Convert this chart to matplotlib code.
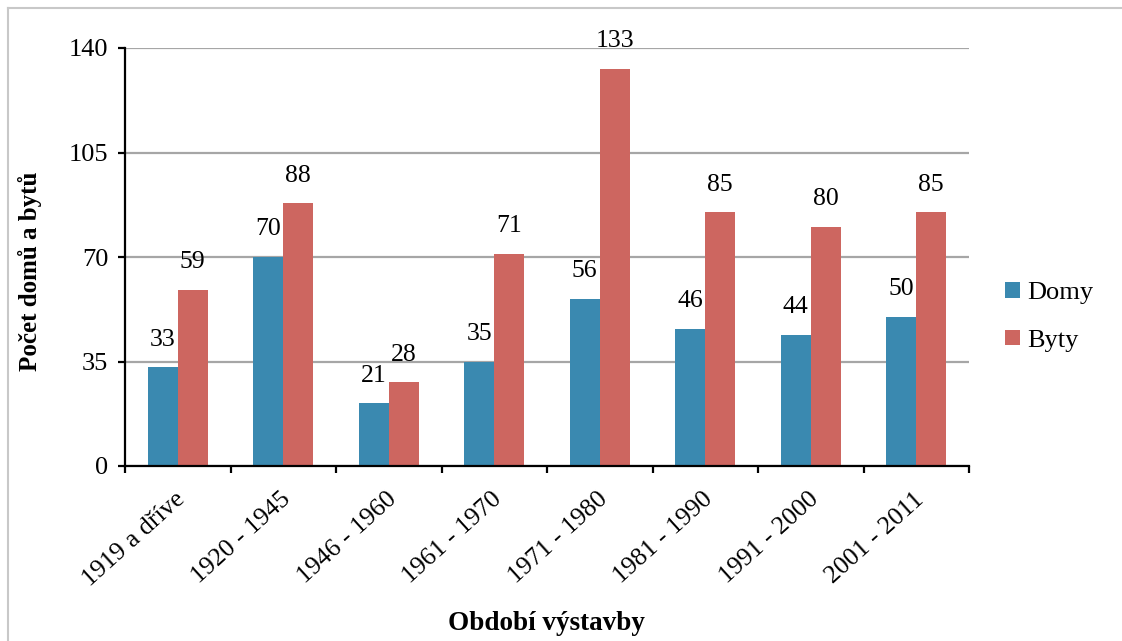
import matplotlib as mpl
import matplotlib.pyplot as plt
import matplotlib.transforms as mtransforms
import numpy as np
from matplotlib.lines import Line2D

periods = ["1919 a dříve", "1920 - 1945", "1946 - 1960", "1961 - 1970",
           "1971 - 1980", "1981 - 1990", "1991 - 2000", "2001 - 2011"]
domy = [33, 70, 21, 35, 56, 46, 44, 50]
byty = [59, 88, 28, 71, 133, 85, 80, 85]
yticks = [0, 35, 70, 105, 140]


def main():
    mpl.rcParams["font.family"] = ["Liberation Serif", "DejaVu Serif"]
    W, H = 1122, 641
    fig = plt.figure(figsize=(W / 100, H / 100), dpi=100)
    ax = fig.add_axes([125 / W, 1 - 466 / H, 844 / W, 418 / H])

    x = np.arange(len(periods))
    w = 0.285
    blue = "#3A89B0"
    red = "#CD6660"
    b1 = ax.bar(x - w / 2, domy, w, color=blue, label="Domy")
    b2 = ax.bar(x + w / 2, byty, w, color=red, label="Byty")
    for bars, vals in ((b1, domy), (b2, byty)):
        for r, v in zip(bars, vals):
            ax.annotate(str(v), (r.get_x() + r.get_width() / 2, v),
                        xytext=(0, 12), textcoords="offset points",
                        ha="center", va="bottom", fontsize=18.5)

    ax.set_xlim(-0.5, len(periods) - 0.5)
    ax.set_ylim(0, 140)
    ax.set_yticks(yticks)
    ax.yaxis.grid(True, color="#A6A6A6", lw=1.6)
    ax.set_axisbelow(True)
    ax.set_xticks(np.arange(len(periods) + 1) - 0.5)
    ax.set_xticklabels([])
    ax.set_xticks(x, minor=True)
    ax.set_xticklabels(periods, minor=True, rotation=42, ha="right",
                       rotation_mode="anchor", fontsize=18.5)
    ax.tick_params(axis="x", which="minor", length=0, pad=14)
    ax.tick_params(axis="x", which="major", length=5, width=1.6)
    ax.tick_params(axis="y", length=5, width=1.6, labelsize=19, pad=7)
    shift = mtransforms.ScaledTranslation(-3 / 100, -3 / 100, fig.dpi_scale_trans)
    for lab in ax.get_xticklabels(minor=True):
        lab.set_transform(lab.get_transform() + shift)
    for s in ("top", "right"):
        ax.spines[s].set_visible(False)
    for s in ("left", "bottom"):
        ax.spines[s].set_linewidth(1.6)

    fig.text(30 / W, 1 - 271 / H, "Počet domů a bytů", fontsize=18,
             fontweight="bold", ha="center", va="center", rotation=90)
    fig.text(546 / W, 1 - 623 / H, "Období výstavby", fontsize=19.5,
             fontweight="bold", ha="center", va="center")

    ax.legend(loc="center left", bbox_to_anchor=((1005 - 125) / 844, (466 - 317) / 418),
              frameon=False, fontsize=19, handlelength=0.55, handleheight=0.55,
              handletextpad=0.3, labelspacing=0.95, borderpad=0, borderaxespad=0)

    # light frame (top and left edges only, as in the source image)
    fig.add_artist(Line2D([8 / W, 1], [1 - 8 / H, 1 - 8 / H],
                          transform=fig.transFigure, color="#C8C8C8", lw=1.5))
    fig.add_artist(Line2D([8 / W, 8 / W], [0, 1 - 8 / H],
                          transform=fig.transFigure, color="#C8C8C8", lw=1.5))
    fig.savefig("out.png", dpi=100)


if __name__ == "__main__":
    main()
